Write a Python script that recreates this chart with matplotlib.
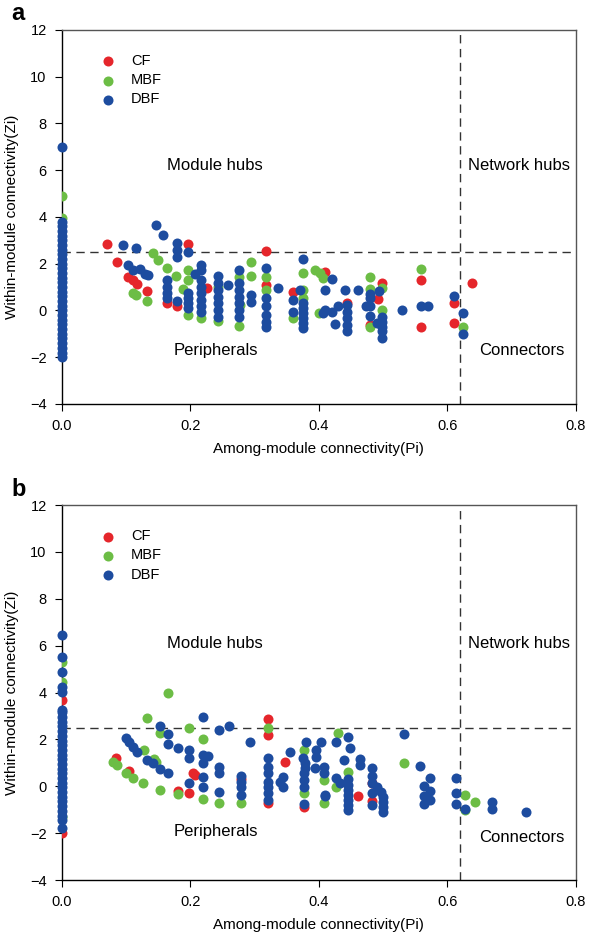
import numpy as np
import matplotlib
matplotlib.use("Agg")
import matplotlib.pyplot as plt

plt.rcParams['font.family'] = ['Liberation Sans', 'DejaVu Sans']

RED = '#e5262b'
GREEN = '#6cbd45'
BLUE = '#1d4c9f'

# (Pi, Zi) pairs
# panel a
a_cf = [(0.0705, 2.83), (0.085, 2.06), (0.103, 1.45), (0.111, 1.3), (0.117, 1.12),
        (0.132, 0.83), (0.164, 0.33), (0.1785, 0.19), (0.197, 2.83), (0.226, 0.98),
        (0.318, 2.55), (0.318, 1.09), (0.36, 0.8), (0.41, 1.66), (0.443, 0.33),
        (0.479, -0.62), (0.499, 1.16), (0.492, 0.48), (0.559, 1.3), (0.559, -0.72),
        (0.61, 0.33), (0.61, -0.52), (0.639, 1.16)]
a_mbf = [(0.0, 4.9), (0.0, 3.95), (0.11, 0.76), (0.116, 0.66), (0.132, 0.42),
         (0.142, 2.47), (0.15, 2.16), (0.163, 1.83), (0.178, 1.49), (0.188, 0.91),
         (0.197, 1.73), (0.197, 1.3), (0.197, -0.19), (0.217, -0.33), (0.243, 1.0),
         (0.243, -0.45), (0.276, 1.45), (0.277, 0.24), (0.276, -0.65), (0.295, 2.06),
         (0.295, 1.49), (0.318, 1.45), (0.318, 0.88), (0.36, -0.33), (0.376, 1.59),
         (0.376, 0.88), (0.376, 0.52), (0.394, 1.73), (0.401, 1.59), (0.407, 1.38),
         (0.4, -0.09), (0.479, 1.45), (0.479, 0.91), (0.479, -0.69), (0.499, 0.95),
         (0.499, 0.02), (0.559, 1.76), (0.625, -0.72)]
a_dbf_col = [-2.0, -1.8, -1.6, -1.4, -1.2, -1.0, -0.8, -0.6, -0.4, -0.2, 0.0, 0.2,
             0.4, 0.6, 0.8, 1.0, 1.2, 1.4, 1.6, 1.8, 2.0, 2.2, 2.4, 2.6, 2.8, 3.0,
             3.2, 3.4, 3.6, 3.8, 7.0]
a_dbf = [(0.095, 2.80), (0.116, 2.69), (0.103, 1.95), (0.111, 1.73), (0.121, 1.76),
         (0.129, 1.55), (0.134, 1.5), (0.146, 3.66), (0.158, 3.23), (0.163, 1.3),
         (0.163, 1.02), (0.163, 0.74), (0.163, 0.52), (0.1785, 2.87), (0.1785, 2.59),
         (0.1785, 2.30), (0.1785, 0.42), (0.197, 2.5), (0.197, 0.74), (0.197, 0.52),
         (0.197, 0.31), (0.197, 0.09), (0.207, 1.55), (0.217, 1.95), (0.217, 1.73),
         (0.217, 1.3), (0.217, 1.02), (0.217, 0.74), (0.217, 0.45), (0.217, 0.17),
         (0.217, -0.05), (0.243, 1.49), (0.243, 1.16), (0.243, 0.88), (0.243, 0.59),
         (0.243, 0.31), (0.243, 0.02), (0.243, -0.26), (0.259, 1.09), (0.276, 1.73),
         (0.276, 1.16), (0.276, 0.88), (0.276, 0.59), (0.276, 0.31), (0.276, 0.02),
         (0.276, -0.26), (0.295, 0.67), (0.295, 0.38), (0.318, 1.83), (0.318, 0.52),
         (0.318, 0.17), (0.318, -0.19), (0.318, -0.48), (0.318, -0.69), (0.337, 0.95),
         (0.37, 0.88), (0.36, 0.45), (0.36, -0.05), (0.376, 2.2), (0.376, 0.31),
         (0.376, 0.09), (0.376, -0.12), (0.376, -0.33), (0.376, -0.55), (0.376, -0.76),
         (0.42, 1.35), (0.409, 0.88), (0.409, 0.02), (0.407, -0.12), (0.42, -0.05),
         (0.43, 0.2), (0.425, -0.58), (0.44, 0.88), (0.443, 0.24), (0.443, -0.05),
         (0.443, -0.33), (0.443, -0.62), (0.443, -0.9), (0.461, 0.88), (0.479, 0.7),
         (0.479, 0.55), (0.479, 0.19), (0.479, -0.24), (0.474, 0.19), (0.494, 0.84),
         (0.49, -0.55), (0.499, -0.26), (0.499, -0.48), (0.499, -0.69), (0.499, -0.9),
         (0.499, -1.19), (0.53, 0.02), (0.559, 0.19), (0.57, 0.19), (0.61, 0.62),
         (0.625, -0.09), (0.625, -1.0)]

# panel b
b_cf = [(0.0, 3.68), (0.0, -2.0), (0.0835, 1.22), (0.105, 0.65), (0.181, -0.19),
        (0.198, -0.3), (0.204, 0.55), (0.207, 0.47), (0.278, 0.3), (0.321, 2.86),
        (0.321, 2.19), (0.321, -0.73), (0.347, 1.05), (0.377, -0.88), (0.461, -0.41),
        (0.482, 0.15), (0.482, -0.62)]
b_mbf = [(0.0, 5.31), (0.0, 4.46), (0.0, -1.3), (0.08, 1.05), (0.085, 0.91),
         (0.1, 0.55), (0.111, 0.34), (0.126, 0.15), (0.127, 1.55), (0.133, 2.9),
         (0.144, 1.15), (0.147, 1.05), (0.153, 2.26), (0.165, 3.99), (0.153, -0.16),
         (0.181, -0.35), (0.198, 2.47), (0.219, 2.0), (0.219, -0.56), (0.245, -0.7),
         (0.278, -0.73), (0.321, 2.47), (0.377, 1.55), (0.377, -0.3), (0.408, 0.27),
         (0.408, -0.7), (0.43, 2.26), (0.427, -0.05), (0.446, 0.62), (0.533, 1.01),
         (0.628, -0.37), (0.628, -1.01), (0.643, -0.69)]
b_dbf_col = [-1.79, -1.45, -1.25, -1.05, -0.85, -0.65, -0.45, -0.25, -0.05, 0.15,
             0.35, 0.55, 0.75, 0.95, 1.15, 1.35, 1.55, 1.75, 1.95, 2.15, 2.35, 2.55,
             2.75, 2.95, 3.15, 3.25, 4.04, 4.25, 4.89, 5.53, 6.45]
b_dbf = [(0.1, 2.05), (0.105, 1.9), (0.111, 1.69), (0.117, 1.48), (0.132, 1.12),
         (0.142, 0.98), (0.153, 0.74), (0.153, 2.57), (0.165, 2.22), (0.165, 1.8),
         (0.165, 0.55), (0.18, 1.62), (0.198, 1.55), (0.198, 1.22), (0.198, 0.15),
         (0.219, 2.94), (0.219, 1.33), (0.219, 0.98), (0.219, 0.41), (0.219, -0.02),
         (0.228, 1.29), (0.245, 2.4), (0.245, 0.84), (0.245, 0.55), (0.245, -0.23),
         (0.26, 2.57), (0.293, 1.87), (0.278, 0.44), (0.278, 0.2), (0.278, -0.02),
         (0.278, -0.37), (0.321, 1.19), (0.321, 0.84), (0.321, 0.55), (0.321, 0.2),
         (0.321, -0.02), (0.321, -0.3), (0.321, -0.58), (0.355, 1.48), (0.344, 0.41),
         (0.344, -0.02), (0.339, 0.2), (0.38, 1.87), (0.376, 1.19), (0.378, 0.98),
         (0.379, 0.77), (0.377, 0.55), (0.377, 0.27), (0.377, -0.02), (0.377, -0.77),
         (0.394, 0.77), (0.396, 1.55), (0.404, 1.87), (0.396, 1.26), (0.408, 0.84),
         (0.408, 0.55), (0.409, -0.41), (0.427, 1.87), (0.427, 0.34), (0.433, 0.13),
         (0.446, 2.12), (0.448, 1.62), (0.439, 1.12), (0.464, 1.15), (0.464, 0.91),
         (0.482, 0.77), (0.482, 0.44), (0.482, 0.13), (0.482, -0.3), (0.482, -0.8),
         (0.49, -0.02), (0.496, -0.23), (0.5, -0.45), (0.5, -0.66), (0.5, -0.87),
         (0.5, -1.08), (0.446, 0.3), (0.446, 0.05), (0.446, -0.16), (0.446, -0.37),
         (0.446, -0.58), (0.446, -0.8), (0.446, -1.01), (0.409, -0.37), (0.533, 2.23),
         (0.558, 0.88), (0.573, 0.37), (0.563, 0.02), (0.573, -0.19), (0.563, -0.42),
         (0.573, -0.59), (0.563, -0.77), (0.613, 0.37), (0.613, -0.27), (0.613, -0.77),
         (0.628, -0.95), (0.669, -0.66), (0.669, -0.98), (0.723, -1.08)]

pi_thr = 0.62
zi_thr = 2.5


def panel(ax, cf, mbf, dbf, dbf_col, letter, txt_y):
    s = 52
    cf = np.array(cf)
    mbf = np.array(mbf)
    dbf = np.array(dbf)
    ax.scatter(cf[:, 0], cf[:, 1], s=s, c=RED, lw=0, label="CF", zorder=3)
    ax.scatter(mbf[:, 0], mbf[:, 1], s=s, c=GREEN, lw=0, label="MBF", zorder=3)
    ax.scatter(dbf[:, 0], dbf[:, 1], s=s, c=BLUE, lw=0, label="DBF", zorder=3)
    ax.scatter(np.zeros(len(dbf_col)), dbf_col, s=s, c=BLUE, lw=0, zorder=3,
               clip_on=False)
    ax.axhline(zi_thr, color='#333333', ls=(0, (6, 4)), lw=1.0, zorder=1)
    ax.axvline(pi_thr, color='#333333', ls=(0, (6, 4)), lw=1.0, zorder=1)
    ax.set_xlim(0, 0.8)
    ax.set_ylim(-4, 12)
    ax.set_xticks([0.0, 0.2, 0.4, 0.6, 0.8])
    ax.set_xticklabels(["0.0", "0.2", "0.4", "0.6", "0.8"])
    ax.set_yticks(np.arange(-4, 13, 2))
    ax.tick_params(direction='out', length=5, labelsize=10.5, pad=6)
    for sp in ax.spines.values():
        sp.set_linewidth(1.0)
    ax.spines['right'].set_color('#555555')
    ax.spines['top'].set_color('#555555')
    ax.set_xlabel("Among-module connectivity(Pi)", fontsize=11, labelpad=6)
    ax.set_ylabel("Within-module connectivity(Zi)", fontsize=11, labelpad=8)
    ax.text(0.238, txt_y[0], "Module hubs", ha='center', va='center', fontsize=12)
    ax.text(0.712, txt_y[0], "Network hubs", ha='center', va='center', fontsize=12)
    ax.text(0.24, txt_y[1], "Peripherals", ha='center', va='center', fontsize=12)
    ax.text(0.716, txt_y[2], "Connectors", ha='center', va='center', fontsize=12)
    ax.legend(loc='upper left', bbox_to_anchor=(0.035, 0.97), frameon=False,
              fontsize=10.5, handletextpad=0.6, labelspacing=0.35, markerscale=1.0)
    ax.text(-0.098, 1.012, letter, transform=ax.transAxes, fontsize=17,
            fontweight='bold', va='bottom', ha='left')


fig = plt.figure(figsize=(5.9, 9.34), dpi=100)
ax1 = fig.add_axes([0.105, 0.5675, 0.871, 0.4005])
ax2 = fig.add_axes([0.105, 0.0578, 0.871, 0.4015])
panel(ax1, a_cf, a_mbf, a_dbf, a_dbf_col, "a", (6.22, -1.7, -1.7))
panel(ax2, b_cf, b_mbf, b_dbf, b_dbf_col, "b", (6.11, -1.95, -2.2))

fig.savefig("out.png", dpi=100)
